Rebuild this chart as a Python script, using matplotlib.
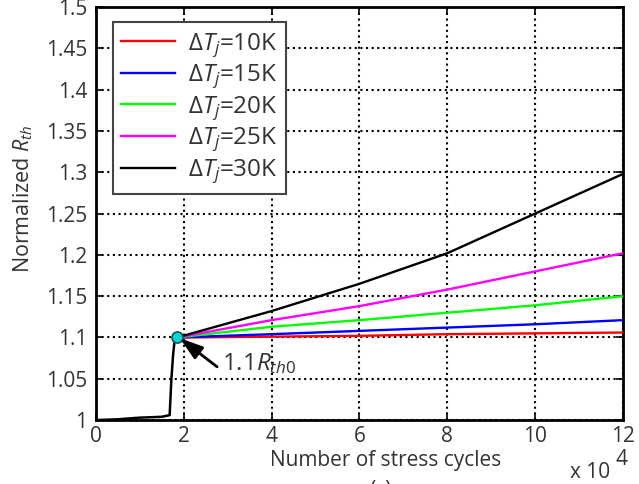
import matplotlib
matplotlib.use("Agg")
import matplotlib.pyplot as plt

plt.rcParams['font.family'] = ['Open Sans', 'DejaVu Sans']
plt.rcParams['mathtext.fontset'] = 'custom'
plt.rcParams['mathtext.rm'] = 'Open Sans'
plt.rcParams['mathtext.it'] = 'Open Sans:italic'

# data (x in units of 1e4 cycles)
x_pre = [0, 0.5, 1.0, 1.5, 1.68, 1.72, 1.76, 1.79, 1.85]
y_pre = [1.0, 1.001, 1.003, 1.004, 1.006, 1.05, 1.08, 1.095, 1.1]

x_post = [1.85, 4, 6, 8, 10, 12]
labels = [r'$\Delta T_j$=10K', r'$\Delta T_j$=15K', r'$\Delta T_j$=20K',
          r'$\Delta T_j$=25K', r'$\Delta T_j$=30K']
colors = ['#ff0000', '#0000ff', '#00ff00', '#ff00ff', '#000000']
series = [
    [1.1, 1.101, 1.102, 1.104, 1.105, 1.106],
    [1.1, 1.104, 1.108, 1.112, 1.116, 1.121],
    [1.1, 1.113, 1.121, 1.130, 1.139, 1.150],
    [1.1, 1.121, 1.138, 1.158, 1.180, 1.202],
    [1.1, 1.132, 1.165, 1.202, 1.250, 1.298],
]
xticks = [0, 2, 4, 6, 8, 10, 12]
yticks = [1.0, 1.05, 1.1, 1.15, 1.2, 1.25, 1.3, 1.35, 1.4, 1.45, 1.5]
ytick_labels = ['1', '1.05', '1.1', '1.15', '1.2', '1.25', '1.3', '1.35', '1.4', '1.45', '1.5']

TXT = '#333333'
FS = 15

fig = plt.figure(figsize=(6.39, 4.84), dpi=100)
ax = fig.add_axes([0.150, 0.132, 0.825, 0.8535])

ax.plot(x_pre, y_pre, color='black', lw=1.8, zorder=3)
for ys, c, lab in zip(series, colors, labels):
    ax.plot(x_post, ys, color=c, lw=1.7, label=lab, zorder=3)

ax.plot([x_post[0]], [series[0][0]], 'o', ms=8, mfc='#00d8d8', mec='#205050', mew=1.2, zorder=5)

# arrow and its label
ax.annotate('', xy=(1.91, 1.0992), xytext=(2.76, 1.0645),
            arrowprops=dict(arrowstyle='-|>,head_length=1.4,head_width=0.45', color='black',
                            lw=2.0, shrinkA=0, shrinkB=0, mutation_scale=10),
            zorder=6)
ax.text(2.88, 1.068, '1.1$R_{th0}$', fontsize=17.5, va='center', ha='left', color=TXT, zorder=6)

ax.set_xlim(0, 12)
ax.set_ylim(1.0, 1.5)
ax.set_xticks(xticks)
ax.set_xticklabels([str(t) for t in xticks])
ax.set_yticks(yticks)
ax.set_yticklabels(ytick_labels)
ax.tick_params(direction='in', top=True, right=True, labelsize=FS, length=5, width=1.2,
               labelcolor=TXT)
ax.tick_params(axis='y', pad=6)
ax.tick_params(axis='x', pad=4)
ax.grid(True, color='black', linestyle=(0, (1.0, 1.7)), lw=1.5)
for s in ax.spines.values():
    s.set_linewidth(2.0)

ax.set_ylabel('Normalized $R_{th}$', fontsize=15.5, color=TXT)
ax.yaxis.set_label_coords(-0.115, 0.535)
ax.set_xlabel('Number of stress cycles', fontsize=FS, color=TXT)
ax.xaxis.set_label_coords(0.55, -0.072)

fig.text(0.892, 0.024, 'x 10', fontsize=FS, color=TXT, ha='left', va='center')
fig.text(0.964, 0.050, '4', fontsize=FS, color=TXT, ha='left', va='center')
fig.text(0.595, 0.0083, '(c)', fontsize=FS, color=TXT, ha='center', va='top')

leg = ax.legend(loc='upper left', bbox_to_anchor=(0.032, 0.963), fontsize=17.5, frameon=True,
                fancybox=False, edgecolor='#444444', framealpha=1, handlelength=2.2,
                labelspacing=0.12, borderpad=0.35, handletextpad=0.55, borderaxespad=0)
leg.get_frame().set_linewidth(1.5)
for t in leg.get_texts():
    t.set_color(TXT)

fig.savefig('out.png', dpi=100)
